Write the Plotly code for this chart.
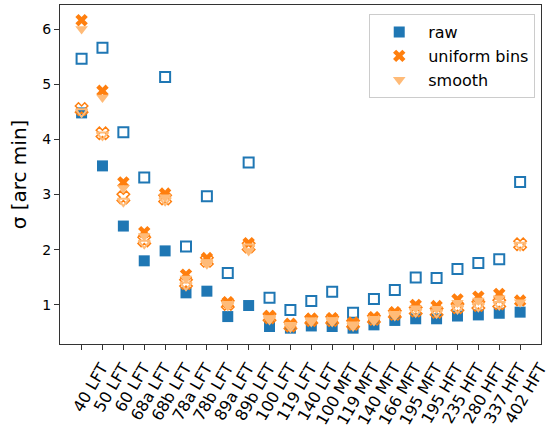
import plotly.graph_objects as go

bands = ["40 LFT", "50 LFT", "60 LFT", "68a LFT", "68b LFT", "78a LFT", "78b LFT",
         "89a LFT", "89b LFT", "100 LFT", "119 LFT", "140 LFT", "100 MFT", "119 MFT",
         "140 MFT", "166 MFT", "195 MFT", "195 HFT", "235 HFT", "280 HFT", "337 HFT",
         "402 HFT"]

raw_filled = [4.48, 3.52, 2.43, 1.80, 1.98, 1.22, 1.25, 0.79, 0.99, 0.61, 0.58, 0.62,
              0.61, 0.58, 0.64, 0.72, 0.75, 0.75, 0.80, 0.82, 0.85, 0.87]
raw_open = [5.46, 5.66, 4.13, 3.31, 5.13, 2.06, 2.97, 1.58, 3.58, 1.13, 0.91, 1.07,
            1.24, 0.86, 1.11, 1.27, 1.50, 1.49, 1.65, 1.76, 1.83, 3.23]
uniform_filled = [6.16, 4.88, 3.22, 2.32, 3.02, 1.55, 1.85, 1.05, 2.12, 0.80, 0.66, 0.75,
                  0.76, 0.68, 0.78, 0.87, 1.00, 0.98, 1.10, 1.15, 1.20, 1.08]
uniform_open = [4.55, 4.11, 2.95, 2.17, 2.93, 1.40, 1.80, 1.02, 2.06, 0.78, 0.63, 0.73,
                0.73, 0.66, 0.75, 0.84, 0.90, 0.88, 0.96, 1.00, 1.03, 2.10]
smooth_filled = [6.00, 4.76, 3.12, 2.25, 2.95, 1.48, 1.78, 1.02, 1.98, 0.76, 0.64, 0.72,
                 0.73, 0.65, 0.75, 0.84, 0.94, 0.93, 1.04, 1.08, 1.12, 1.05]
smooth_open = [4.50, 4.08, 2.88, 2.12, 2.90, 1.36, 1.76, 1.00, 2.05, 0.75, 0.61, 0.71,
               0.71, 0.63, 0.73, 0.82, 0.88, 0.86, 0.94, 0.98, 1.01, 2.08]

BLUE = "#1f77b4"
ORANGE = "#ff7f0e"
LIGHT = "#ffbb78"
MS = 11

fig = go.Figure()
fig.add_trace(go.Scatter(x=bands, y=raw_filled, mode="markers", name="raw",
                         marker=dict(symbol="square", size=MS, color=BLUE, line=dict(width=0))))
fig.add_trace(go.Scatter(x=bands, y=raw_open, mode="markers", name="raw", showlegend=False,
                         marker=dict(symbol="square-open", size=MS - 1, color=BLUE,
                                     line=dict(width=2, color=BLUE))))
fig.add_trace(go.Scatter(x=bands, y=uniform_filled, mode="markers", name="uniform bins",
                         marker=dict(symbol="x", size=MS, color=ORANGE, line=dict(width=0))))
fig.add_trace(go.Scatter(x=bands, y=uniform_open, mode="markers", name="uniform bins",
                         showlegend=False,
                         marker=dict(symbol="x-open", size=MS, color=ORANGE,
                                     line=dict(width=1.5, color=ORANGE))))
fig.add_trace(go.Scatter(x=bands, y=smooth_filled, mode="markers", name="smooth",
                         marker=dict(symbol="triangle-down", size=MS, color=LIGHT,
                                     line=dict(width=0))))
fig.add_trace(go.Scatter(x=bands, y=smooth_open, mode="markers", name="smooth",
                         showlegend=False,
                         marker=dict(symbol="triangle-down-open", size=MS - 1, color=LIGHT,
                                     line=dict(width=2, color=LIGHT))))

fig.update_layout(
    width=550, height=435,
    margin=dict(l=60, r=0, t=5, b=91),
    paper_bgcolor="white", plot_bgcolor="white",
    font=dict(family="DejaVu Sans", size=14, color="black"),
    legend=dict(x=0.988, y=0.973, xanchor="right", yanchor="top",
                bgcolor="rgba(255,255,255,0.8)", bordercolor="#cccccc", borderwidth=1,
                font=dict(size=16), tracegroupgap=0, itemwidth=48),
)
fig.update_xaxes(type="category", range=[-1.034, 22.0], tickangle=-60,
                 showgrid=False, zeroline=False,
                 showline=True, linecolor="#333333", linewidth=1.2, mirror=True,
                 ticks="outside", ticklen=5, tickcolor="#333333",
                 tickfont=dict(size=16), ticklabelshift=20, ticklabelstandoff=2)
fig.update_yaxes(range=[0.293, 6.435], tickvals=[1, 2, 3, 4, 5, 6],
                 showgrid=False, zeroline=False,
                 showline=True, linecolor="#333333", linewidth=1.2, mirror=True,
                 ticks="outside", ticklen=5, tickcolor="#333333",
                 tickfont=dict(size=14),
                 title=dict(text="σ [arc min]", font=dict(size=20), standoff=10))

fig.write_html("out.html")
